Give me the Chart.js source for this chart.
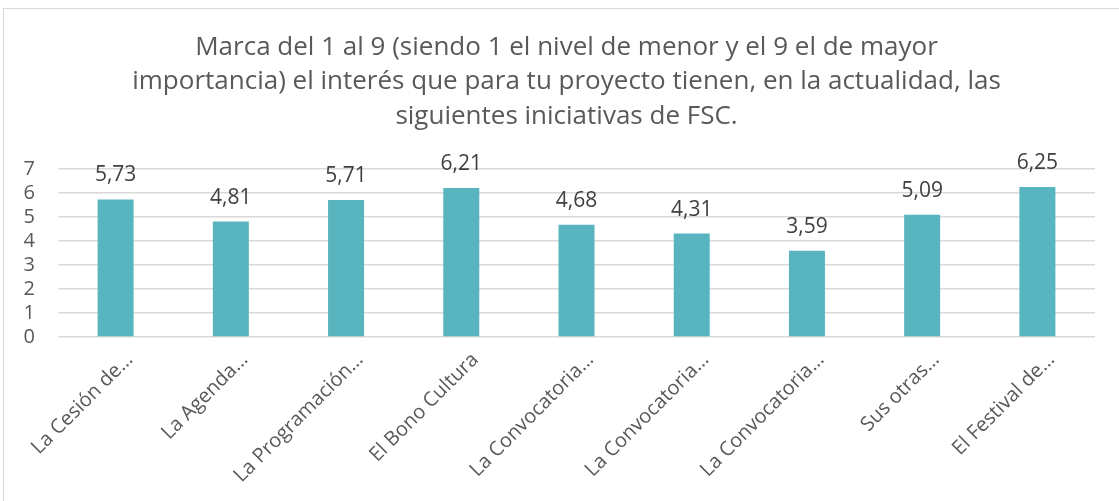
<!DOCTYPE html>
<html>
<head>
<meta charset="utf-8">
<script src="https://cdn.jsdelivr.net/npm/chart.js@4/dist/chart.umd.min.js"></script>
<style>
  html, body { margin: 0; padding: 0; background: #fff; }
  #wrap { position: relative; width: 1119px; height: 501px; }
</style>
</head>
<body>
<div id="wrap"><canvas id="chart" width="1119" height="501"></canvas></div>
<script>
const categories = ["La Cesión de…", "La Agenda…", "La Programación…", "El Bono Cultura", "La Convocatoria…", "La Convocatoria…", "La Convocatoria…", "Sus otras…", "El Festival de…"];
const scores = [5.73, 4.81, 5.71, 6.21, 4.68, 4.31, 3.59, 5.09, 6.25];
const titleLines = [
  "Marca del 1 al 9 (siendo 1 el nivel de menor y el 9 el de mayor",
  "importancia) el interés que para tu proyecto tienen, en la actualidad, las",
  "siguientes iniciativas de FSC."
];

const fontFamily = "'Open Sans', 'Noto Sans', sans-serif";

// light frame around the chart, like the office export
const framePlugin = {
  id: 'frame',
  beforeDraw(chart) {
    const ctx = chart.ctx;
    ctx.save();
    ctx.strokeStyle = '#d9d9d9';
    ctx.lineWidth = 1;
    ctx.strokeRect(3.5, 8.5, chart.width + 20, chart.height + 20);
    ctx.restore();
  }
};

// title is centred on the frame, not on the plot, so it gets drawn here
const titlePlugin = {
  id: 'centredTitle',
  afterDraw(chart) {
    const ctx = chart.ctx;
    ctx.save();
    ctx.font = `26px ${fontFamily}`;
    ctx.fillStyle = '#595959';
    ctx.textAlign = 'center';
    ctx.textBaseline = 'middle';
    titleLines.forEach((line, i) => {
      ctx.fillText(line, 566.5, 47.5 + i * 34.5);
    });
    ctx.restore();
  }
};

// value labels above each bar
const valueLabels = {
  id: 'valueLabels',
  afterDatasetsDraw(chart) {
    const ctx = chart.ctx;
    const meta = chart.getDatasetMeta(0);
    ctx.save();
    ctx.font = `21px ${fontFamily}`;
    ctx.fillStyle = '#404040';
    ctx.textAlign = 'center';
    ctx.textBaseline = 'alphabetic';
    meta.data.forEach((bar, i) => {
      const txt = scores[i].toFixed(2).replace('.', ',');
      ctx.fillText(txt, bar.x, bar.y - 18);
    });
    ctx.restore();
  }
};

const ctx = document.getElementById("chart").getContext("2d");
new Chart(ctx, {
  type: 'bar',
  data: {
    labels: categories,
    datasets: [{
      data: scores,
      backgroundColor: '#58b5c0',
      borderWidth: 0,
      barPercentage: 0.3125,
      categoryPercentage: 1
    }]
  },
  options: {
    responsive: false,
    animation: false,
    devicePixelRatio: 1,
    layout: {
      padding: { top: 169, left: 4, right: 24, bottom: 0 }
    },
    plugins: {
      legend: { display: false },
      tooltip: { enabled: false },
      title: { display: false }
    },
    scales: {
      x: {
        grid: { display: false },
        border: { display: false },
        ticks: {
          color: '#595959',
          font: { family: fontFamily, size: 20 },
          minRotation: 45,
          maxRotation: 45,
          autoSkip: false,
          labelOffset: 14,
          padding: 3
        },
        afterFit(scale) { scale.height = 164; }
      },
      y: {
        min: 0,
        max: 7,
        grid: { color: '#d9d9d9', lineWidth: 1.5, drawTicks: false },
        border: { display: false },
        ticks: {
          stepSize: 1,
          autoSkip: false,
          color: '#595959',
          font: { family: fontFamily, size: 20 },
          padding: 23
        },
        afterFit(scale) { scale.width = 54; }
      }
    }
  },
  plugins: [framePlugin, titlePlugin, valueLabels]
});
</script>
</body>
</html>
